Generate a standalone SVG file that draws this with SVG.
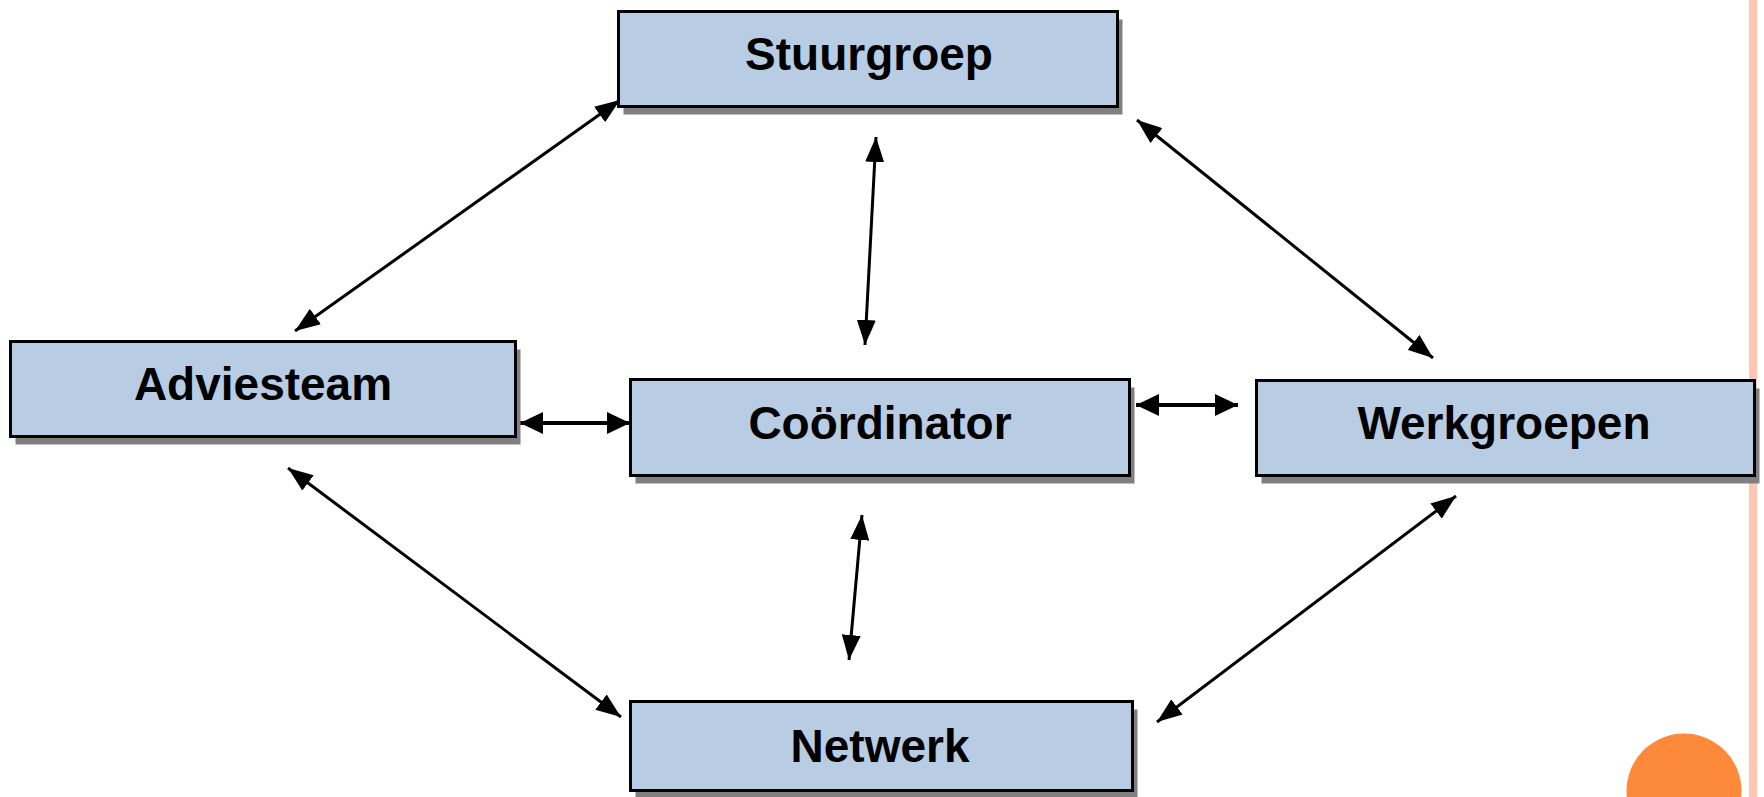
<svg xmlns="http://www.w3.org/2000/svg" width="1764" height="797" viewBox="0 0 1764 797">
<style>
.box{fill:#B8CCE4;stroke:#000;stroke-width:3}
.shadow{fill:#808080}
.lbl{font-family:"Liberation Sans",Arial,sans-serif;font-weight:bold;font-size:46px;fill:#000;text-anchor:middle}
.c{stroke:#000;stroke-width:3;fill:none;marker-start:url(#ad);marker-end:url(#ad)}
.c.h{stroke-width:4;marker-start:url(#ah);marker-end:url(#ah)}
</style>
<defs>
<marker id="ah" markerUnits="userSpaceOnUse" markerWidth="23" markerHeight="22" refX="23" refY="11" orient="auto-start-reverse" viewBox="0 0 23 22">
<path d="M0,0 L23,11 L0,22 z" fill="#000"/>
</marker>
<marker id="ad" markerUnits="userSpaceOnUse" markerWidth="25" markerHeight="19" refX="25" refY="9.5" orient="auto-start-reverse" viewBox="0 0 25 19">
<path d="M0,0 L25,9.5 L0,19 z" fill="#000"/>
</marker>
</defs>
<rect width="1764" height="797" fill="#fff"/>
<rect x="1749" y="0" width="8" height="797" fill="#FFC7B3"/>
<circle cx="1684" cy="791" r="57.5" fill="#FD8A3A"/>
<g id="connectors">
<line class="c" x1="295" y1="331" x2="620" y2="100"/>
<line class="c" x1="876" y1="137" x2="865" y2="345"/>
<line class="c" x1="1137" y1="120" x2="1433" y2="358"/>
<line class="c h" x1="520" y1="423" x2="630" y2="423"/>
<line class="c h" x1="1136" y1="405" x2="1238" y2="405"/>
<line class="c" x1="288" y1="468" x2="621" y2="717"/>
<line class="c" x1="862" y1="515" x2="849" y2="660"/>
<line class="c" x1="1456" y1="496" x2="1157" y2="722"/>
</g>
<g id="stuurgroep">
<rect class="shadow" x="623.5" y="19.5" width="499" height="95"/>
<rect class="box" x="618.5" y="11.5" width="499" height="95"/>
<text class="lbl" x="869" y="70">Stuurgroep</text>
</g>
<g id="adviesteam">
<rect class="shadow" x="15.5" y="349.5" width="505" height="95"/>
<rect class="box" x="10.5" y="341.5" width="505" height="95"/>
<text class="lbl" x="263" y="400">Adviesteam</text>
</g>
<g id="coordinator">
<rect class="shadow" x="635.5" y="387.5" width="499" height="96"/>
<rect class="box" x="630.5" y="379.5" width="499" height="96"/>
<text class="lbl" x="880" y="439">Coördinator</text>
</g>
<g id="werkgroepen">
<rect class="shadow" x="1261.5" y="388.5" width="498" height="95"/>
<rect class="box" x="1256.5" y="380.5" width="498" height="95"/>
<text class="lbl" x="1504" y="439">Werkgroepen</text>
</g>
<g id="netwerk">
<rect class="shadow" x="635.5" y="709.5" width="502" height="89"/>
<rect class="box" x="630.5" y="701.5" width="502" height="89"/>
<text class="lbl" x="880" y="762">Netwerk</text>
</g>
</svg>
